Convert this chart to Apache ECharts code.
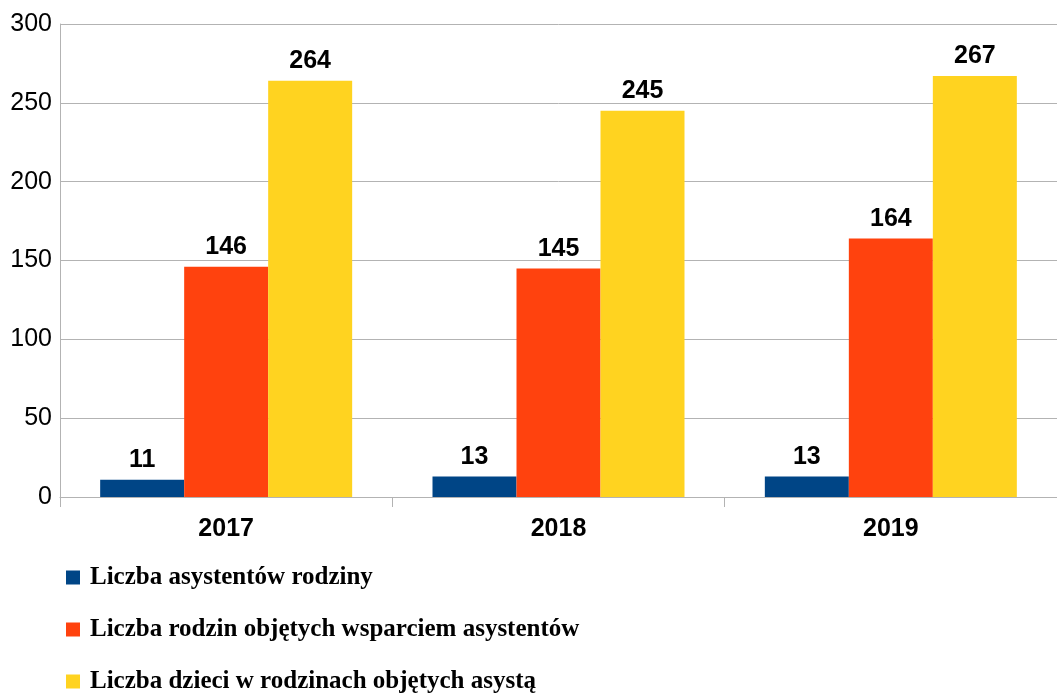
<!DOCTYPE html>
<html><head><meta charset="utf-8">
<script src="https://cdn.jsdelivr.net/npm/echarts@6/dist/echarts.min.js"></script>
<style>html,body{margin:0;padding:0;background:#fff}#c{width:1057px;height:693px}</style>
</head><body><div id="c"></div>
<script>
const categories = ['2017', '2018', '2019'];
const seriesNames = ['Liczba asystentów rodziny', 'Liczba rodzin objętych wsparciem asystentów', 'Liczba dzieci w rodzinach objętych asystą'];
const asystenci = [11, 13, 13];
const rodziny = [146, 145, 164];
const dzieci = [264, 245, 267];
const yTicks = [0, 50, 100, 150, 200, 250, 300];
const colors = ['#004586', '#ff420e', '#ffd320'];

const chart = echarts.init(document.getElementById('c'));
const lbl = {show: true, position: 'top', distance: 7, color: '#000', fontFamily: 'Liberation Sans', fontWeight: 'bold', fontSize: 25};
const values = [asystenci, rodziny, dzieci];
chart.setOption({
  animation: false,
  color: colors,
  grid: {left: 60, right: 0, top: 24, bottom: 196, containLabel: false},
  legend: {
    orient: 'vertical', left: 66, top: 565, height: 130, itemWidth: 14, itemHeight: 14, itemGap: 27,
    icon: 'rect', padding: 0,
    textStyle: {fontFamily: 'Liberation Serif', fontWeight: 'bold', fontSize: 25, color: '#000', padding: [0, 0, 0, 5]},
    data: seriesNames
  },
  xAxis: {
    type: 'category', data: categories,
    axisLine: {lineStyle: {color: '#b3b3b3'}},
    axisTick: {show: true, length: 10, lineStyle: {color: '#b3b3b3'}},
    axisLabel: {color: '#000', fontFamily: 'Liberation Sans', fontWeight: 'bold', fontSize: 25, margin: 20}
  },
  yAxis: {
    type: 'value', min: 0, max: 300, interval: 50,
    axisLine: {show: true, lineStyle: {color: '#b3b3b3'}},
    axisTick: {show: false},
    splitLine: {lineStyle: {color: '#b3b3b3'}},
    axisLabel: {color: '#000', fontFamily: 'Liberation Sans', fontSize: 25, margin: 8}
  },
  series: seriesNames.map((n, i) => ({
    name: n, type: 'bar', data: values[i], barWidth: 84, barGap: '0%', label: lbl
  }))
});
</script></body></html>
